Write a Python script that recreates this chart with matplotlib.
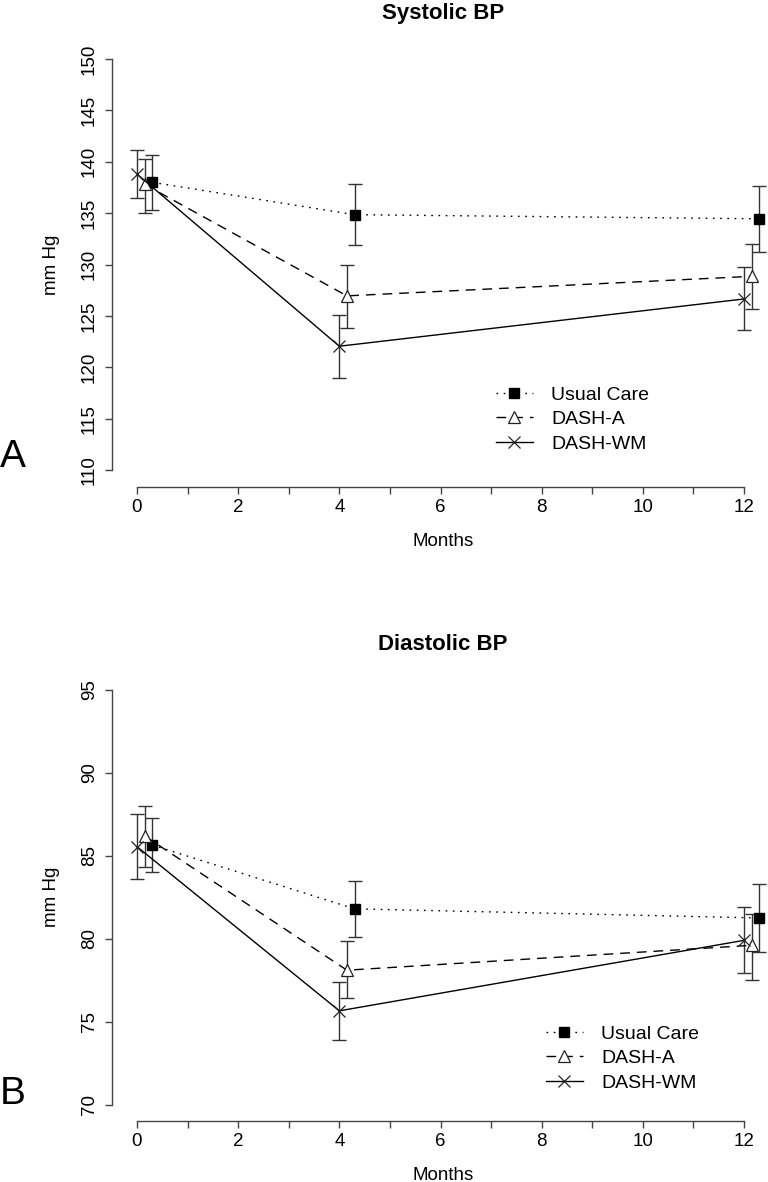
import matplotlib
matplotlib.use("Agg")
import matplotlib.pyplot as plt
import numpy as np

plt.rcParams['font.family'] = ['Liberation Sans', 'DejaVu Sans']

# ---------------- data ----------------
months = [0, 4, 12]
groups = ["Usual Care", "DASH-A", "DASH-WM"]

sys_uc = [138.0, 134.85, 134.45]
sys_uc_lo = [135.35, 131.9, 131.25]
sys_uc_hi = [140.7, 137.8, 137.65]
sys_a = [137.8, 126.95, 128.85]
sys_a_lo = [135.0, 123.85, 125.7]
sys_a_hi = [140.3, 129.95, 131.95]
sys_wm = [138.8, 122.05, 126.65]
sys_wm_lo = [136.45, 119.0, 123.6]
sys_wm_hi = [141.1, 125.1, 129.75]

dia_uc = [85.65, 81.8, 81.25]
dia_uc_lo = [84.0, 80.1, 79.2]
dia_uc_hi = [87.3, 83.5, 83.3]
dia_a = [86.2, 78.1, 79.6]
dia_a_lo = [84.35, 76.4, 77.5]
dia_a_hi = [88.0, 79.85, 81.5]
dia_wm = [85.55, 75.65, 79.9]
dia_wm_lo = [83.6, 73.9, 77.95]
dia_wm_hi = [87.5, 77.4, 81.9]

sys_yticks = [110, 115, 120, 125, 130, 135, 140, 145, 150]
dia_yticks = [70, 75, 80, 85, 90, 95]
xticks_major = [0, 2, 4, 6, 8, 10, 12]

# ---------------- styling ----------------
W, H = 768, 1182
fig = plt.figure(figsize=(W / 100, H / 100), dpi=100)

dodge = {"Usual Care": 0.3, "DASH-A": 0.15, "DASH-WM": 0.0}
styles = {
    "Usual Care": dict(ls=(0, (1.2, 4.0)), marker='s', mfc='black', mec='black', ms=7),
    "DASH-A": dict(ls=(0, (7, 5)), marker='^', mfc='white', mec='#222222', ms=8.5, mew=0.9),
    "DASH-WM": dict(ls='-', marker='x', mfc='none', mec='#222222', ms=9, mew=0.9),
}
AXC = '#444444'


def fx(px):
    return px / W


def fy(py):
    return 1 - py / H


def panel(top_px, bottom_px, ylim, yticks, series, title, title_y, months_y,
          letter, letter_y, leg_xy):
    ax = fig.add_axes([fx(111.7), fy(bottom_px), fx(766.8) - fx(111.7),
                       (bottom_px - top_px) / H])
    for name, (vals, lo, hi) in zip(groups, series):
        xs = np.array(months) + dodge[name]
        v = np.array(vals)
        yerr = [v - np.array(lo), np.array(hi) - v]
        ax.errorbar(xs, v, yerr=yerr, fmt='none', ecolor='#333333',
                    elinewidth=1.0, capsize=5, capthick=1.0, zorder=2)
        st = styles[name]
        ax.plot(xs, v, color='black', lw=1.0, ls=st['ls'], marker=st['marker'],
                mfc=st['mfc'], mec=st['mec'], ms=st['ms'],
                mew=st.get('mew', 1.0), label=name, zorder=3)
    ax.set_xlim(-0.5, 12.45)
    ax.set_ylim(*ylim)
    for s in ['top', 'right']:
        ax.spines[s].set_visible(False)
    ax.spines['left'].set_bounds(yticks[0], yticks[-1])
    ax.spines['bottom'].set_bounds(0, 12)
    for s in ['left', 'bottom']:
        ax.spines[s].set_color(AXC)
        ax.spines[s].set_linewidth(1.0)
    ax.set_yticks(yticks)
    ax.set_yticklabels([str(t) for t in yticks], rotation=90, va='center')
    ax.set_xticks(xticks_major)
    ax.set_xticks(list(range(0, 13)), minor=True)
    ax.tick_params(axis='both', which='both', length=5, width=1.0, color=AXC,
                   labelsize=13.5, direction='out')
    ax.tick_params(axis='y', pad=5)
    ax.tick_params(axis='x', pad=4)
    fig.text(fx(443), fy(title_y), title, ha='center', va='center',
             fontsize=16, fontweight='bold')
    fig.text(fx(443), fy(months_y), "Months", ha='center', va='center', fontsize=13.5)
    fig.text(fx(51), fy((top_px + bottom_px) / 2 - 3), "mm Hg", ha='center',
             va='center', rotation=90, fontsize=13.5)
    fig.text(fx(13), fy(letter_y), letter, ha='center', va='center', fontsize=28)
    ax.legend(loc='upper left', bbox_to_anchor=(fx(leg_xy[0]), fy(leg_xy[1])),
              bbox_transform=fig.transFigure, frameon=False, fontsize=14,
              handlelength=1.9, handletextpad=0.95, labelspacing=0.36,
              borderpad=0, borderaxespad=0)
    return ax


panel(47.7, 487, (108.35, 151.1), sys_yticks,
      [(sys_uc, sys_uc_lo, sys_uc_hi), (sys_a, sys_a_lo, sys_a_hi),
       (sys_wm, sys_wm_lo, sys_wm_hi)],
      "Systolic BP", 13, 541, "A", 457, (496, 386))

panel(680, 1120.6, (69.03, 95.6), dia_yticks,
      [(dia_uc, dia_uc_lo, dia_uc_hi), (dia_a, dia_a_lo, dia_a_hi),
       (dia_wm, dia_wm_lo, dia_wm_hi)],
      "Diastolic BP", 644, 1175, "B", 1094, (546, 1025))

fig.savefig("out.png", dpi=100)
